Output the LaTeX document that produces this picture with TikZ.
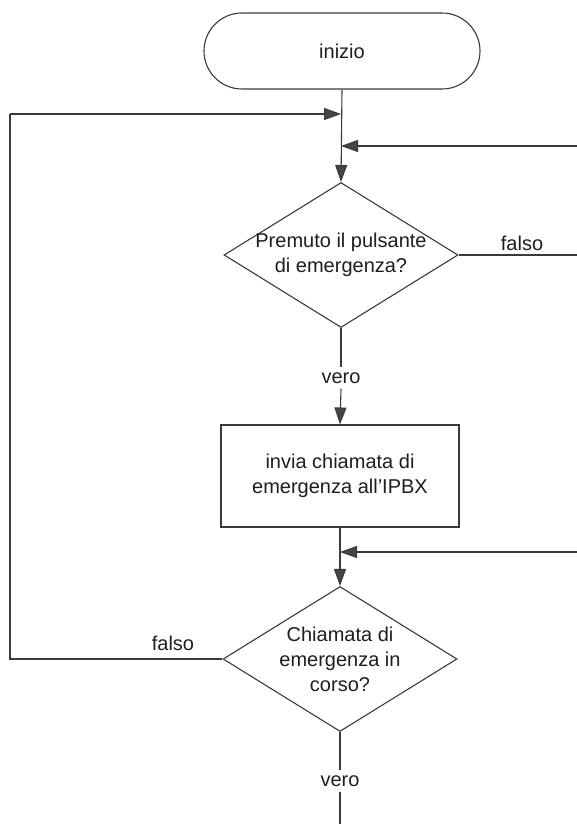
\documentclass[tikz,border=0pt]{standalone}
\usepackage{fontspec}
\setmainfont{Liberation Sans}
\usetikzlibrary{shapes.geometric,arrows.meta}
\definecolor{linegray}{HTML}{3A3A3A}
\definecolor{headgray}{HTML}{454545}
\definecolor{txt}{HTML}{1E1E1E}
\begin{document}
\begin{tikzpicture}[x=1pt,y=-1pt,
  every node/.style={text=txt,font=\fontsize{20}{25}\selectfont},
  conn/.style={draw=linegray,line width=1.1pt},
  flow/.style={conn,-{Triangle[length=17pt,width=12pt,fill=headgray]}},
  terminal/.style={draw=linegray,line width=1.1pt,rectangle,rounded corners=38pt,
    minimum width=276pt,minimum height=76pt,inner sep=0pt},
  process/.style={draw=linegray,line width=1.1pt,rectangle,
    minimum width=238pt,minimum height=102pt,inner sep=0pt,align=center},
  decision/.style={draw=linegray,line width=1.1pt,diamond,inner sep=0pt,
    minimum width=234pt,minimum height=145pt},
  question/.style={align=center,inner sep=0pt},
  edgelabel/.style={inner sep=5pt}]
\useasboundingbox (0,0) rectangle (577,824);

% blocks
\node[terminal] (start) at (342,51) {inizio};
\node[decision] (d1) at (341,255) {};
\node[question] at (d1.center) {Premuto il pulsante\\di emergenza?};
\node[process] (box) at (340,476) {invia chiamata di\\emergenza all’IPBX};
\node[decision] (d2) at (340,659) {};
\node[question] at (d2.center) {Chiamata di\\emergenza in\\corso?};

% junction points and free ends
\coordinate (j1) at (341,114);
\coordinate (j2) at (341,146);
\coordinate (j3) at (340,552);
\coordinate (in1) at (577,146);
\coordinate (in2) at (577,552);
\coordinate (out1) at (577,255);
\coordinate (lc) at (10,659);
\coordinate (lt) at (10,114);
\coordinate (bottom) at (340,824);

% labels
\node[edgelabel] (v1) at (341,378) {vero};
\node[edgelabel] (v2) at (340,781) {vero};
\node (f1) at (522,243) {falso};
\node (f2) at (173,643) {falso};

% main flow
\draw[flow] (start.south) -- (d1.north);
\draw[flow] (lt) -- (j1);
\draw[flow] (in1) -- (j2);
\draw[conn] (d1.east) -- (out1);
\draw[conn] (d1.south) -- (v1.north);
\draw[flow] (v1.south) -- (box.north);
\draw[flow] (box.south) -- (d2.north);
\draw[flow] (in2) -- (j3);
\draw[conn] (d2.west) -- (lc) -- (lt);
\draw[conn] (d2.south) -- (v2.north);
\draw[conn] (v2.south) -- (bottom);
\end{tikzpicture}
\end{document}
